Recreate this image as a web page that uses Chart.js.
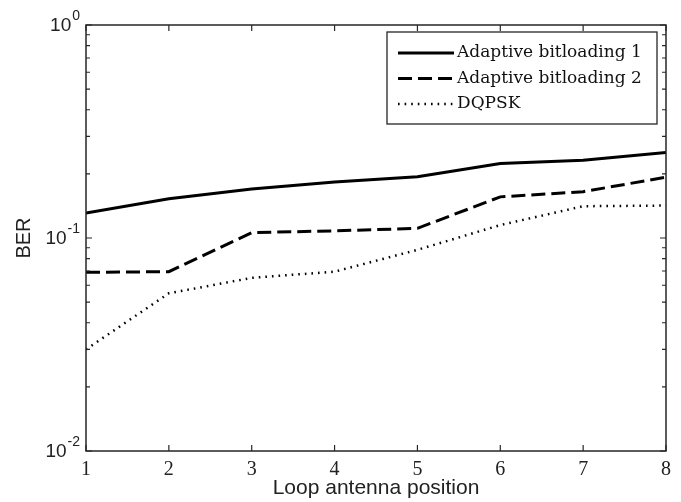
<!DOCTYPE html>
<html>
<head>
<meta charset="utf-8">
<script src="https://cdn.jsdelivr.net/npm/chart.js@4.4.1/dist/chart.umd.min.js"></script>
<style>
  html, body { margin: 0; padding: 0; background: #fff; }
</style>
</head>
<body>
<canvas id="ber-chart" width="681" height="502"></canvas>
<script>
// data
const positions = [1, 2, 3, 4, 5, 6, 7, 8];
const adaptive1 = [0.131, 0.153, 0.170, 0.183, 0.194, 0.224, 0.232, 0.252];
const adaptive2 = [0.069, 0.0695, 0.106, 0.108, 0.111, 0.156, 0.165, 0.193];
const dqpsk = [0.030, 0.055, 0.065, 0.0695, 0.088, 0.115, 0.141, 0.142];
const seriesLabels = ['Adaptive bitloading 1', 'Adaptive bitloading 2', 'DQPSK'];

const xTicks = [1, 2, 3, 4, 5, 6, 7, 8];
const yDecades = [0.01, 0.1, 1];
const yDecadeExp = ['-2', '-1', '0'];
const yMinorTicks = [0.02, 0.03, 0.04, 0.05, 0.06, 0.07, 0.08, 0.09,
                     0.2, 0.3, 0.4, 0.5, 0.6, 0.7, 0.8, 0.9];

const toPoints = arr => arr.map((v, i) => ({ x: positions[i], y: v }));

// matlab style box, inward ticks, 10^n labels and legend
const matlabAxes = {
  id: 'matlabAxes',
  afterDraw(chart) {
    const ctx = chart.ctx;
    const area = chart.chartArea;
    const xs = chart.scales.x;
    const ys = chart.scales.y;
    ctx.save();
    ctx.strokeStyle = '#262626';
    ctx.lineWidth = 1.5;
    ctx.strokeRect(area.left, area.top, area.right - area.left, area.bottom - area.top);

    ctx.lineWidth = 1.2;
    ctx.beginPath();
    for (let v of xTicks) {
      const px = xs.getPixelForValue(v);
      ctx.moveTo(px, area.bottom); ctx.lineTo(px, area.bottom - 6);
      ctx.moveTo(px, area.top); ctx.lineTo(px, area.top + 6);
    }
    for (let v of yDecades.concat(yMinorTicks)) {
      const py = ys.getPixelForValue(v);
      const len = yDecades.includes(v) ? 6 : 4;
      ctx.moveTo(area.left, py); ctx.lineTo(area.left + len, py);
      ctx.moveTo(area.right, py); ctx.lineTo(area.right - len, py);
    }
    ctx.stroke();

    // y tick labels 10^n
    ctx.fillStyle = '#222';
    ctx.textBaseline = 'middle';
    yDecades.forEach((v, i) => {
      const py = ys.getPixelForValue(v);
      ctx.font = '14px "Liberation Sans", Arial, sans-serif';
      ctx.textAlign = 'right';
      const expW = ctx.measureText(yDecadeExp[i]).width;
      const right = area.left - 6;
      ctx.fillText(yDecadeExp[i], right, py - 9);
      ctx.font = '19px "Liberation Sans", Arial, sans-serif';
      ctx.fillText('10', right - expW - 1, py + 1);
    });

    // legend box
    const boxL = 387, boxT = 32, boxW = 270, boxH = 92;
    ctx.fillStyle = '#fff';
    ctx.fillRect(boxL, boxT, boxW, boxH);
    ctx.strokeStyle = '#262626';
    ctx.lineWidth = 1.3;
    ctx.strokeRect(boxL, boxT, boxW, boxH);
    ctx.font = '17px "DejaVu Serif", serif';
    ctx.textAlign = 'left';
    ctx.fillStyle = '#111';
    chart.data.datasets.forEach((ds, i) => {
      const rowY = boxT + 21 + i * 25.5;
      ctx.beginPath();
      ctx.strokeStyle = '#000';
      ctx.lineWidth = ds.borderWidth;
      ctx.setLineDash(ds.borderDash || []);
      ctx.moveTo(boxL + 11, rowY);
      ctx.lineTo(boxL + 67, rowY);
      ctx.stroke();
      ctx.setLineDash([]);
      ctx.fillText(ds.label, boxL + 70, rowY);
    });
    ctx.restore();
  }
};

const ctx = document.getElementById('ber-chart').getContext('2d');
new Chart(ctx, {
  type: 'line',
  data: {
    datasets: [
      {
        label: seriesLabels[0],
        data: toPoints(adaptive1),
        borderColor: '#000',
        borderWidth: 3,
        pointRadius: 0,
        tension: 0,
        fill: false
      },
      {
        label: seriesLabels[1],
        data: toPoints(adaptive2),
        borderColor: '#000',
        borderWidth: 3,
        borderDash: [14, 6],
        pointRadius: 0,
        tension: 0,
        fill: false
      },
      {
        label: seriesLabels[2],
        data: toPoints(dqpsk),
        borderColor: '#000',
        borderWidth: 2.5,
        borderDash: [1.6, 5],
        pointRadius: 0,
        tension: 0,
        fill: false
      }
    ]
  },
  options: {
    responsive: false,
    animation: false,
    layout: { padding: { top: 25, right: 15, left: 0, bottom: 0 } },
    plugins: {
      legend: { display: false },
      tooltip: { enabled: false }
    },
    scales: {
      x: {
        type: 'linear',
        min: 1,
        max: 8,
        afterBuildTicks: scale => { scale.ticks = xTicks.map(v => ({ value: v })); },
        afterFit: scale => { scale.height = 51; },
        grid: { display: false, drawTicks: false },
        border: { display: false },
        ticks: {
          color: '#222',
          padding: 7,
          maxRotation: 0,
          font: { size: 20, family: '"Liberation Serif", "Times New Roman", serif' }
        },
        title: {
          display: true,
          text: 'Loop antenna position',
          color: '#222',
          padding: { top: 0, bottom: 1 },
          font: { size: 21, family: '"Liberation Sans", Arial, sans-serif' }
        }
      },
      y: {
        type: 'logarithmic',
        min: 0.01,
        max: 1,
        afterBuildTicks: scale => { scale.ticks = yDecades.map(v => ({ value: v })); },
        afterFit: scale => { scale.width = 86; },
        grid: { display: false, drawTicks: false },
        border: { display: false },
        ticks: { callback: () => '' },
        title: {
          display: true,
          text: 'BER',
          color: '#222',
          padding: { top: 12, bottom: 0 },
          font: { size: 20, family: '"Liberation Sans", Arial, sans-serif' }
        }
      }
    }
  },
  plugins: [matlabAxes]
});
</script>
</body>
</html>
